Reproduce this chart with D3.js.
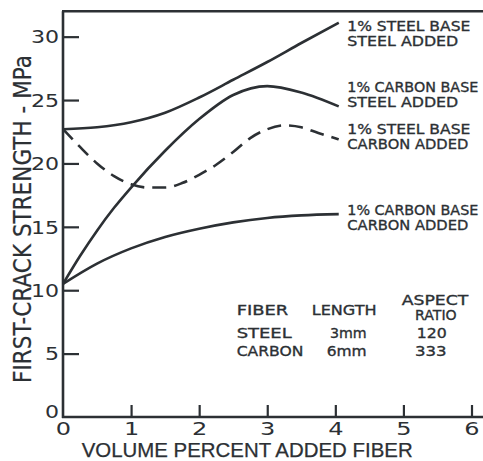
<!DOCTYPE html>
<html>
<head>
<meta charset="utf-8">
<script src="https://cdn.jsdelivr.net/npm/d3@7"></script>
<style>
  html, body { margin: 0; padding: 0; background: #fff; }
  svg { display: block; }
</style>
</head>
<body>
<svg id="chart" width="483" height="461"></svg>
<script>
// First-crack strength of hybrid fibre composites vs. volume of added fibre
const xTicks = [0, 1, 2, 3, 4, 5, 6];
const yTicks = [0, 5, 10, 15, 20, 25, 30];

// 1% steel base, steel added
const xSteelSteel = [0, 0.5, 1, 1.5, 2, 2.5, 3, 3.5, 4.05];
const ySteelSteel = [22.7, 22.85, 23.25, 24.0, 25.2, 26.6, 28.0, 29.5, 31.1];

// 1% carbon base, steel added
const xCarbonSteel = [0, 0.25, 0.5, 0.75, 1, 1.5, 2, 2.5, 3, 3.5, 4.05];
const yCarbonSteel = [10.5, 12.7, 14.7, 16.5, 18.1, 21.0, 23.5, 25.4, 26.1, 25.6, 24.5];

// 1% steel base, carbon added (dashed)
const xSteelCarbon = [0, 0.25, 0.5, 0.75, 1, 1.25, 1.5, 1.75, 2, 2.25, 2.5, 2.75, 3, 3.25, 3.5, 3.75, 4.05];
const ySteelCarbon = [22.7, 21.3, 20.0, 19.0, 18.35, 18.1, 18.1, 18.45, 19.1, 19.9, 20.9, 22.0, 22.7, 23.0, 22.85, 22.4, 21.9];

// 1% carbon base, carbon added
const xCarbonCarbon = [0, 0.5, 1, 1.5, 2, 2.5, 3, 3.5, 4.05];
const yCarbonCarbon = [10.5, 12.1, 13.3, 14.2, 14.85, 15.35, 15.7, 15.9, 16.0];

const seriesLabels = [
  ["1% STEEL BASE", "STEEL ADDED"],
  ["1% CARBON BASE", "STEEL ADDED"],
  ["1% STEEL BASE", "CARBON ADDED"],
  ["1% CARBON BASE", "CARBON ADDED"]
];

const tableHeader = ["FIBER", "LENGTH", "ASPECT", "RATIO"];
const fiberNames = ["STEEL", "CARBON"];
const fiberLengths = ["3mm", "6mm"];
const aspectRatios = ["120", "333"];

const xTitle = "VOLUME PERCENT ADDED FIBER";
const yTitle = "FIRST-CRACK STRENGTH - MPa";

const INK = "#2c3034";
const FONT = "'DejaVu Sans', 'Liberation Sans', sans-serif";
const FONT_NARROW = "'Liberation Sans', Arial, sans-serif";

const svg = d3.select("#chart");
const x = d3.scaleLinear().domain([0, 6]).range([63, 471.5]);
const y = d3.scaleLinear().domain([0, 32]).range([417, 11.3]);
const xEdge = 483;

// frame: left axis, bottom axis, top rule
const frame = svg.append("g").attr("stroke", INK).attr("stroke-width", 2.6).attr("fill", "none");
frame.append("line").attr("x1", x(0)).attr("x2", x(0)).attr("y1", y(0) + 1).attr("y2", y(32));
frame.append("line").attr("x1", x(0) - 1).attr("x2", xEdge).attr("y1", y(0)).attr("y2", y(0));
frame.append("line").attr("x1", x(0) - 1).attr("x2", xEdge).attr("y1", y(32)).attr("y2", y(32));

// axes with inward ticks
const gx = svg.append("g").attr("transform", `translate(0,${y(0)})`)
  .call(d3.axisBottom(x).tickValues(xTicks).tickSize(-12).tickPadding(4.5).tickFormat(d3.format("d")));
const gy = svg.append("g").attr("transform", `translate(${x(0)},0)`)
  .call(d3.axisLeft(y).tickValues(yTicks).tickSize(-16).tickPadding(3).tickFormat(d3.format("d")));

[gx, gy].forEach(g => {
  g.select(".domain").remove();
  g.selectAll(".tick line").attr("stroke", INK).attr("stroke-width", 2.2);
  g.selectAll(".tick text").attr("fill", INK).attr("font-family", FONT);
});
gx.selectAll(".tick line").filter(d => d === 0).remove();
gy.selectAll(".tick line").filter(d => d === 0).remove();

gx.selectAll(".tick text")
  .attr("font-size", 18.5)
  .attr("transform", "scale(1.3,1)");
gy.selectAll(".tick text")
  .attr("font-size", 17)
  .attr("dy", "0.37em")
  .attr("transform", "scale(1.3,1)");
gy.selectAll(".tick text").filter(d => d === 0)
  .attr("dy", "0.02em").attr("x", -3);

// curves
const line = d3.line()
  .x(d => x(d[0]))
  .y(d => y(d[1]))
  .curve(d3.curveMonotoneX);

const series = [
  { xs: xSteelSteel, ys: ySteelSteel, dash: null },
  { xs: xCarbonSteel, ys: yCarbonSteel, dash: null },
  { xs: xSteelCarbon, ys: ySteelCarbon, dash: "14,8" },
  { xs: xCarbonCarbon, ys: yCarbonCarbon, dash: null }
];

svg.append("g").selectAll("path")
  .data(series)
  .join("path")
  .attr("d", s => line(s.xs.map((v, i) => [v, s.ys[i]])))
  .attr("fill", "none")
  .attr("stroke", INK)
  .attr("stroke-width", 2.6)
  .attr("stroke-linecap", "butt")
  .attr("stroke-linejoin", "round")
  .attr("stroke-dasharray", s => s.dash);

// text block: one <text> with a fitted <tspan> per line
function textBlock(g, lines, size, family) {
  const t = g.append("text")
    .attr("font-family", family || FONT)
    .attr("font-size", size)
    .attr("fill", INK)
    .attr("stroke", INK).attr("stroke-width", 0.35);
  lines.forEach(l => {
    t.append("tspan")
      .attr("x", l.x).attr("y", l.y)
      .attr("textLength", l.w)
      .attr("lengthAdjust", "spacingAndGlyphs")
      .text(l.text);
  });
  return t;
}

// series labels at the right end of each curve
const labelWidths = { "1% STEEL BASE": 123, "1% CARBON BASE": 131, "STEEL ADDED": 111, "CARBON ADDED": 121 };
const labelBaselines = [[30.5, 45.5], [91.7, 106.7], [134.3, 149.3], [215.2, 230.2]];
const lg = svg.append("g");
seriesLabels.forEach((lines, i) => {
  textBlock(lg, lines.map((t, j) => ({ text: t, x: 347.3, y: labelBaselines[i][j], w: labelWidths[t] })), 14.5);
});

// fibre property table
const tg = svg.append("g");
textBlock(tg, [{ text: tableHeader[0], x: 236.7, y: 315, w: 51.6 }], 14.5);
textBlock(tg, [{ text: tableHeader[1], x: 311.7, y: 315, w: 65 }], 14.5);
textBlock(tg, [
  { text: tableHeader[2], x: 401.7, y: 304.5, w: 66.6 },
  { text: tableHeader[3], x: 415, y: 319.5, w: 41.7 }
], 14.5);
textBlock(tg, [
  { text: fiberNames[0], x: 236.7, y: 338.3, w: 55 },
  { text: fiberNames[1], x: 236.7, y: 356, w: 66.6 }
], 14.5);
textBlock(tg, [
  { text: fiberLengths[0], x: 330, y: 338.3, w: 36.7 },
  { text: fiberLengths[1], x: 326.7, y: 356, w: 40 }
], 14.5);
textBlock(tg, [
  { text: aspectRatios[0], x: 416.7, y: 338.3, w: 30 },
  { text: aspectRatios[1], x: 415, y: 356, w: 31.7 }
], 14.5);

// axis titles
textBlock(svg, [{ text: xTitle, x: 81.7, y: 457, w: 331 }], 19.5, FONT_NARROW)
  .attr("stroke-width", 0.25);
textBlock(svg, [{ text: yTitle, x: 0, y: 0, w: 328 }], 24)
  .attr("stroke-width", 0.2)
  .attr("transform", "translate(30.5,383) rotate(-90)");
</script>
</body>
</html>
